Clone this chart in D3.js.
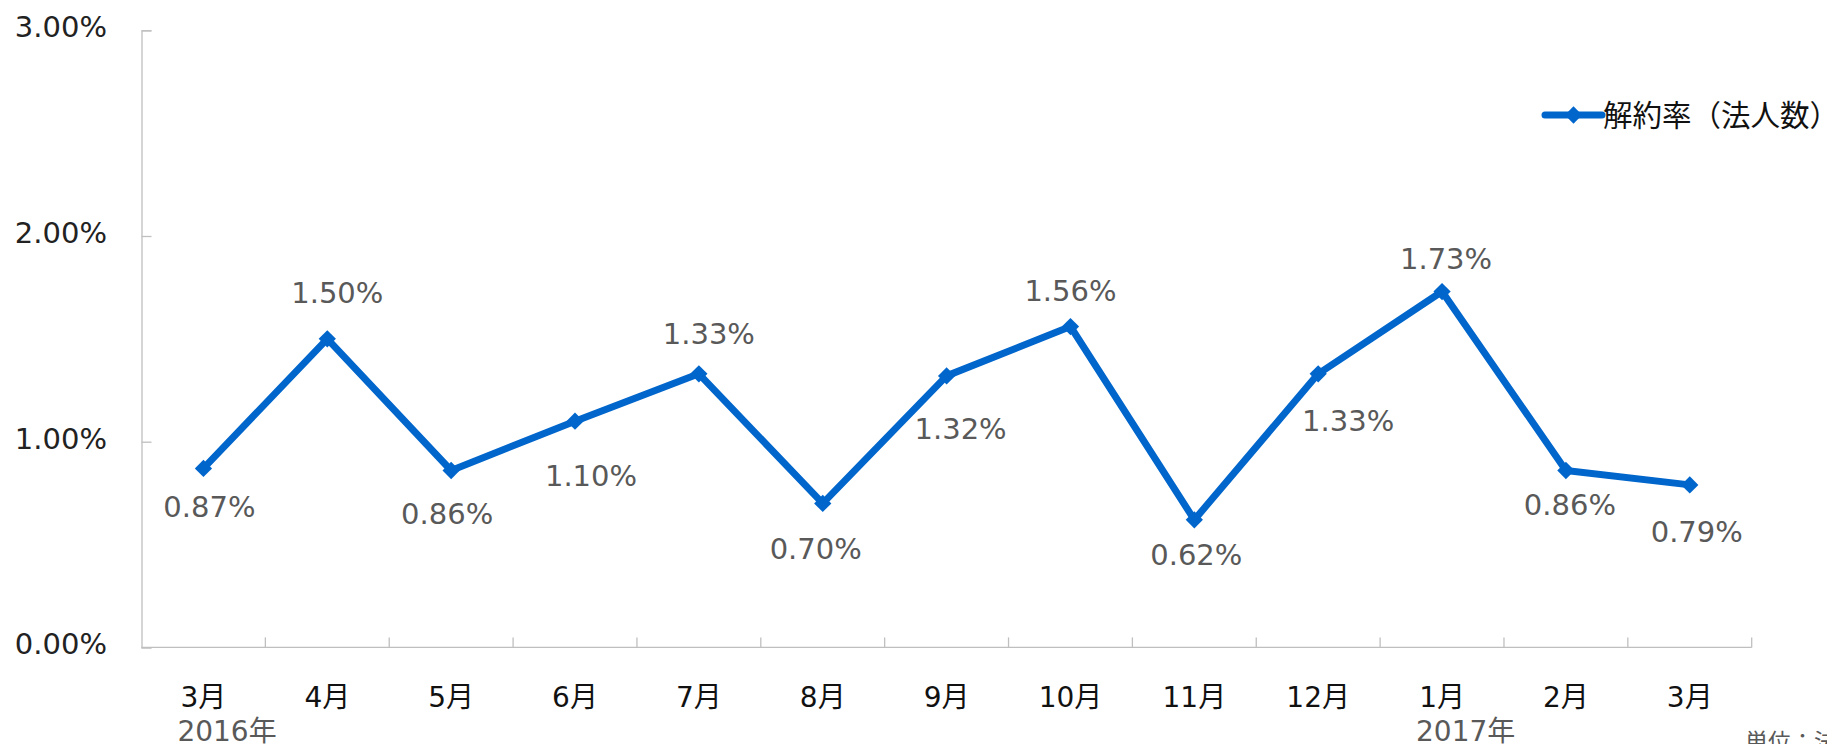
<!DOCTYPE html>
<html>
<head>
<meta charset="utf-8">
<script src="https://cdn.jsdelivr.net/npm/d3@7"></script>
<style>
  html, body { margin: 0; padding: 0; background: #fff; overflow: hidden; }
  svg { display: block; font-family: "DejaVu Sans", "Noto Sans CJK JP", sans-serif; }
</style>
</head>
<body>
<svg id="chart" width="1827" height="744"></svg>
<script>
// categories and values
var months = ['3月', '4月', '5月', '6月', '7月', '8月', '9月', '10月', '11月', '12月', '1月', '2月', '3月']
var years = ['2016年', '', '', '', '', '', '', '', '', '', '2017年', '', '']
var rates = [0.87, 1.50, 0.86, 1.10, 1.33, 0.70, 1.32, 1.56, 0.62, 1.33, 1.73, 0.86, 0.79]
var yTicks = [0, 1, 2, 3]
var seriesName = '解約率（法人数）'
var unitText = '単位：法人数'

// label nudges (dx, dy of label centre from its point), as placed in the original
var labelNudge = [[6, 38], [10, -46], [-4, 43], [16, 54], [10, -40], [-7, 45], [14, 53],
  [0, -36], [2, 35], [30, 47], [4, -33], [4, 34], [7, 47]]

var blue = '#0066CC'
var grey = '#595959'
var axisGrey = '#BFBFBF'

var svg = d3.select('#chart')

// scales
var x = d3.scaleBand()
  .domain(months.map((m, i) => i))
  .range([141.5, 1751.7])
  .paddingInner(0)
  .paddingOuter(0)
var y = d3.scaleLinear()
  .domain([0, 3])
  .range([647.4, 30.3])

var cx = (i) => x(i) + x.bandwidth() / 2

// y axis (ticks point inward)
var yAxisG = svg.append('g')
  .attr('transform', 'translate(141.5,0)')
  .call(d3.axisLeft(y)
    .tickValues(yTicks)
    .tickSize(-10)
    .tickPadding(34.5)
    .tickFormat((d) => d3.format('.2f')(d) + '%'))
yAxisG.select('.domain').attr('stroke', axisGrey).attr('stroke-width', 1.3)
yAxisG.selectAll('.tick line').attr('stroke', axisGrey).attr('stroke-width', 1.3)
yAxisG.selectAll('.tick text')
  .attr('font-size', 29)
  .attr('font-family', '"DejaVu Sans", sans-serif')
  .attr('fill', '#222')
  .attr('dy', null)
  .attr('y', 6.5)

// x axis line + boundary ticks
var xAxisG = svg.append('g')
  .attr('transform', 'translate(0,' + y(0) + ')')
xAxisG.append('line')
  .attr('x1', x.range()[0]).attr('x2', x.range()[1])
  .attr('stroke', axisGrey).attr('stroke-width', 1.3)
xAxisG.selectAll('.btick')
  .data(months.map((m, i) => i))
  .enter().append('line')
  .attr('class', 'btick')
  .attr('x1', (i) => x(i) + x.step())
  .attr('x2', (i) => x(i) + x.step())
  .attr('y1', 0).attr('y2', -10)
  .attr('stroke', axisGrey).attr('stroke-width', 1.3)

// month labels
var monthG = svg.append('g')
  .attr('transform', 'translate(0,' + y(0) + ')')
  .call(d3.axisBottom(x).tickSize(0).tickFormat((i) => months[i]))
monthG.select('.domain').remove()
monthG.selectAll('.tick text')
  .attr('font-size', 28)
  .attr('font-family', '"DejaVu Sans", "Noto Sans CJK JP", sans-serif')
  .attr('fill', '#111')
  .attr('dy', null)
  .attr('y', 60)

// year labels under the months
svg.append('g').selectAll('text')
  .data(years.map((t, i) => ({ t: t, i: i })).filter((d) => d.t))
  .enter().append('text')
  .attr('x', (d) => cx(d.i) - 26)
  .attr('y', 740.5)
  .attr('font-size', 28)
  .attr('fill', grey)
  .text((d) => d.t)

// series line
var line = d3.line()
  .x((d, i) => cx(i))
  .y((d) => y(d))
svg.append('path')
  .datum(rates)
  .attr('fill', 'none')
  .attr('stroke', blue)
  .attr('stroke-width', 7)
  .attr('stroke-linejoin', 'round')
  .attr('d', line)

// diamond markers
var diamond = d3.symbol().type(d3.symbolDiamond2).size(190)
svg.append('g').selectAll('path')
  .data(rates)
  .enter().append('path')
  .attr('transform', (d, i) => 'translate(' + cx(i) + ',' + y(d) + ')')
  .attr('d', diamond)
  .attr('fill', blue)

// data labels
svg.append('g').selectAll('text')
  .data(rates)
  .enter().append('text')
  .attr('x', (d, i) => cx(i) + labelNudge[i][0])
  .attr('y', (d, i) => y(d) + labelNudge[i][1] + 10.6)
  .attr('text-anchor', 'middle')
  .attr('font-size', 29)
  .attr('fill', grey)
  .text((d) => d3.format('.2f')(d) + '%')

// legend
var legend = svg.append('g').attr('transform', 'translate(1545,115)')
legend.append('line')
  .attr('x1', 0).attr('x2', 57)
  .attr('stroke', blue).attr('stroke-width', 7)
  .attr('stroke-linecap', 'round')
legend.append('path')
  .attr('transform', 'translate(28.5,0)')
  .attr('d', diamond)
  .attr('fill', blue)
legend.append('text')
  .attr('x', 58)
  .attr('y', 10.5)
  .attr('font-size', 29.5)
  .attr('font-family', '"Noto Sans CJK JP", sans-serif')
  .attr('fill', '#111')
  .text(seriesName)

// unit note, cut off by the right/bottom edge as in the original
svg.append('text')
  .attr('x', 1745)
  .attr('y', 750)
  .attr('font-size', 23)
  .attr('font-family', '"Noto Sans CJK JP", sans-serif')
  .attr('fill', grey)
  .text(unitText)
</script>
</body>
</html>
